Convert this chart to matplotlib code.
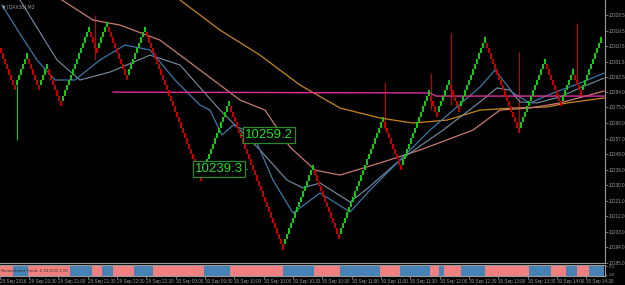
import matplotlib
matplotlib.use("Agg")
import matplotlib.pyplot as plt

# ---------------- data ----------------
brick_size = 3.07
start_price = 10309.4
runs = [-8, 6, -6, 4, -7, 14, -4, 5, -10, 9, -28, 14, -27, 15, -13, 22,
        -9, 14, -4, 6, -5, 13, -17, 13, -8, 6, -4, 10]

wick_bars = [8, 47, 192, 215, 225, 259, 288]
wick_low = [10256.2, 10302.5, 10261.9, 10273.5, 10276.4, 10261.9, 10289.1]
wick_high = [10288.0, 10328.5, 10289.7, 10294.9, 10318.1, 10307.1, 10323.9]
wick_up = [True, False, False, False, False, False, False]

fast_x = [1, 11, 18.5, 27.5, 37.5, 50, 62.5, 75, 87.5, 100, 105, 111, 116.5,
          122.5, 128.5, 136.5, 146.5, 160, 175, 185, 200, 215, 240, 247.5,
          256.5, 265, 276.5, 290, 302]
fast_y = [10334.3, 10315.8, 10302.5, 10290.9, 10290.9, 10302.5, 10311.1,
          10308.3, 10290.9, 10276.4, 10273.5, 10259.1, 10264.8, 10261.9,
          10254.4, 10233.0, 10213.9, 10225.5, 10214.5, 10227.2, 10244.6,
          10261.9, 10286.8, 10296.7, 10283.4, 10277.6, 10283.4, 10289.1, 10294.9]

slow_x = [10, 28.5, 40, 55, 75, 90, 110, 130, 143.5, 151.5, 160, 175, 184,
          200, 221.5, 240, 248.5, 255, 260, 268.5, 280, 290, 302]
slow_y = [10337.2, 10302.5, 10290.9, 10295.5, 10305.3, 10299.6, 10273.5,
          10250.4, 10233.0, 10228.4, 10231.3, 10220.3, 10228.4, 10244.6,
          10261.9, 10278.2, 10286.3, 10285.1, 10278.2, 10277.6, 10281.1,
          10286.3, 10292.0]

salmon_x = [31, 46.5, 60, 80, 100, 120, 132.5, 145, 157.5, 170, 190, 210,
            230, 236.5, 250, 265, 280, 302]
salmon_y = [10337.2, 10325.6, 10322.7, 10314.0, 10296.7, 10279.3, 10273.5,
            10252.1, 10238.8, 10235.9, 10242.9, 10250.4, 10259.1, 10261.9,
            10273.5, 10274.7, 10277.6, 10284.5]

gold_x = [90, 110, 130, 150, 170, 190, 206.5, 223.5, 240, 256.5, 273.5,
          283.5, 302]
gold_y = [10337.2, 10319.8, 10305.3, 10288.0, 10274.7, 10268.9, 10266.0,
          10267.7, 10273.5, 10274.7, 10275.3, 10277.6, 10280.5]

level_x = [56.5, 215, 218, 302]
level_y = [10283.9, 10283.4, 10281.6, 10281.6]

label_texts = ["10259.2", "10239.3"]
label_bars = [120, 123.5]
label_prices = [10259.2, 10239.3]

band_edges = [0, 6.5, 14, 35, 46, 51, 56.5, 67, 76.5, 102, 115, 141.5, 157,
              170, 190, 200, 215, 219.5, 222, 230.5, 242.5, 264.5, 275.5,
              283, 288.5, 294.5, 302]
band_first_bear = True

price_ticks = [10328.5, 10319.5, 10310.5, 10301.5, 10292.5, 10284.0, 10275.0,
               10266.0, 10257.0, 10248.0, 10239.0, 10230.0, 10221.0, 10212.0,
               10203.0, 10194.0, 10185.0]
time_tick_bars = [0, 14.5, 29, 44, 58.5, 73, 88, 102.5, 117, 132, 146.5, 161,
                  176, 190.5, 205, 220, 234.5, 249, 264, 278.5, 293]
time_labels = ["29 Sep 2016", "29 Sep 20:30", "29 Sep 21:00", "29 Sep 21:30",
               "29 Sep 22:00", "29 Sep 22:30", "30 Sep 09:00", "30 Sep 09:30",
               "30 Sep 10:00", "30 Sep 10:00", "30 Sep 10:30", "30 Sep 10:30",
               "30 Sep 11:00", "30 Sep 11:00", "30 Sep 11:30", "30 Sep 12:00",
               "30 Sep 12:30", "30 Sep 13:00", "30 Sep 13:30", "30 Sep 14:00",
               "30 Sep 14:30"]

# ---------------- styles ----------------
BG = "black"
GRID = "#9a9a9a"
UPC = "#12c812"
DNC = "#c40000"
FONT = "Liberation Sans"

fig = plt.figure(figsize=(6.25, 2.85), dpi=100, facecolor=BG)
W, H = 625.0, 285.0
ax = fig.add_axes([0, 1 - 263 / H, 605 / W, 263 / H])
band = fig.add_axes([0, 1 - 276 / H, 605 / W, 11 / H], sharex=ax)
for a in (ax, band):
    a.set_facecolor(BG)
    for s in a.spines.values():
        s.set_color(GRID)
        s.set_linewidth(0.8)
    a.spines["left"].set_visible(False)
ax.spines["top"].set_visible(False)

# bricks
xs, bots, hts, cols = [], [], [], []
lo, hi = start_price - brick_size, start_price
first = True
i = 0
for r in runs:
    up = r > 0
    for _ in range(abs(r)):
        if first:
            first = False
        elif up:
            lo, hi = hi, hi + brick_size
        else:
            lo, hi = lo - brick_size, lo
        xs.append(i + 0.5)
        bots.append(lo)
        hts.append(hi - lo)
        cols.append(UPC if up else DNC)
        i += 1
ax.bar(xs, hts, bottom=bots, width=0.8, color=cols, linewidth=0, zorder=3)
for b, l, h, u in zip(wick_bars, wick_low, wick_high, wick_up):
    ax.vlines(b + 0.5, l, h, color=UPC if u else DNC, linewidth=0.8, zorder=2)

ax.plot(gold_x, gold_y, color="#c8861e", lw=0.9, zorder=2)
ax.plot(salmon_x, salmon_y, color="#c87a6e", lw=0.9, zorder=2)
ax.plot(slow_x, slow_y, color="#7890a8", lw=0.8, zorder=2)
ax.plot(fast_x, fast_y, color="#3c78a8", lw=0.9, zorder=2)
ax.plot(level_x, level_y, color="#e0309c", lw=1.0, zorder=2)

# price labels
for t, b, p, side in zip(label_texts, label_bars, label_prices, ["left", "right"]):
    off = 2.5 if side == "left" else -2.0
    ax.plot([b, b + off], [p, p], color="#2a8a2a", lw=0.8, zorder=4)
    ax.text(b + off, p, t, ha=side, va="center", color="#22e022",
            fontsize=9.5, family=FONT, zorder=5,
            bbox=dict(boxstyle="square,pad=0.15", fc="black", ec="#2a8a2a", lw=0.9))

ax.set_xlim(0, 302.5)
ax.set_ylim(10185.0, 10337.2)
ax.yaxis.tick_right()
ax.set_yticks(price_ticks)
ax.set_yticklabels([f"{v:.1f}" for v in price_ticks])
ax.tick_params(axis="y", colors=GRID, labelsize=3.3, length=2, width=0.5, pad=1)
ax.tick_params(axis="x", bottom=False, labelbottom=False)
for lbl in ax.get_yticklabels():
    lbl.set_family(FONT)

ax.text(0.004, 0.985, "\u25BC [DAX30],M2", transform=ax.transAxes, ha="left",
        va="top", color="#a0a0a0", fontsize=3.3, family="DejaVu Sans")

# trend band
bear = band_first_bear
for a0, a1 in zip(band_edges[:-1], band_edges[1:]):
    band.axvspan(a0, a1, color="#f08080" if bear else "#4682b4", lw=0)
    bear = not bear
band.set_ylim(0, 1)
band.text(0.5, 0.5, "RenkoStreet Trend -0.18 0.00 1.00", ha="left", va="center",
          color="#303030", fontsize=3.2, family=FONT)
band.set_yticks([0.1, 0.9])
band.set_yticklabels(["0.0", "0.1"])
band.yaxis.tick_right()
band.tick_params(axis="y", colors=GRID, labelsize=2.8, length=1.5, width=0.5, pad=1)
band.set_xticks(time_tick_bars)
band.set_xticklabels(time_labels, ha="left")
band.tick_params(axis="x", colors=GRID, labelsize=3.3, length=2, width=0.5, pad=0.5)
for lbl in band.get_xticklabels():
    lbl.set_family(FONT)

fig.savefig("out.png", dpi=100, facecolor=BG)
